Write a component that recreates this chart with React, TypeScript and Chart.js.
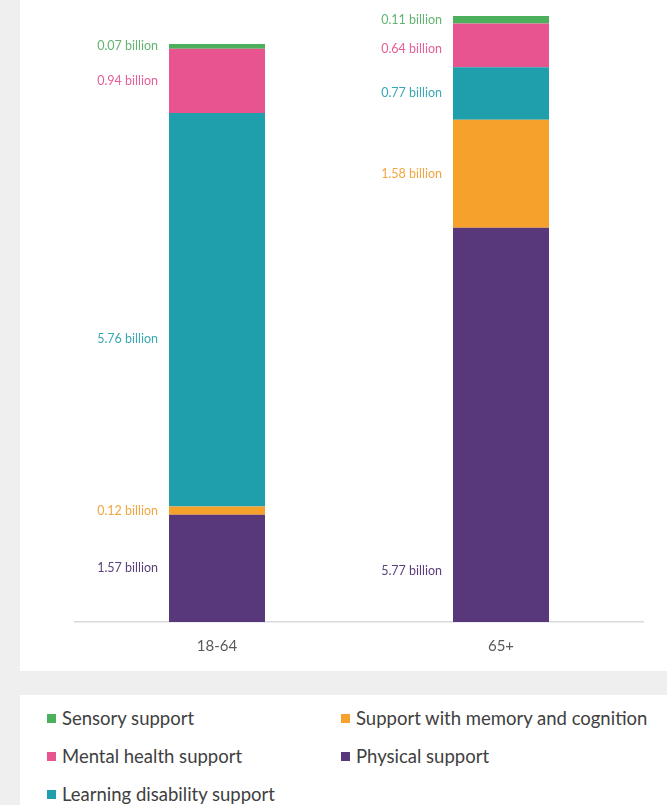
import React, { useEffect, useRef } from "react";
import { Chart, registerables } from "chart.js";

Chart.register(...registerables);

const categories = ["18-64", "65+"];
const seriesNames = [
  "Physical support",
  "Support with memory and cognition",
  "Learning disability support",
  "Mental health support",
  "Sensory support",
];
const physical = [1.57, 5.77];
const memory = [0.12, 1.58];
const learning = [5.76, 0.77];
const mental = [0.94, 0.64];
const sensory = [0.07, 0.11];
const seriesValues = [physical, memory, learning, mental, sensory];
const colors = ["#58377a", "#f5a12b", "#1f9fac", "#e8548f", "#4caf5b"];
const labelColors = ["#5b3f7c", "#f3a640", "#3aa7b4", "#e65f96", "#62b56f"];
// y-values (billions) where a value label is anchored when not at segment middle: key = "series-category"
const labelAnchors: Record<string, number> = { "2-0": 4.14, "0-1": 0.74, "3-1": 8.39 };
const legendOrder = [4, 3, 2, 1, 0];
const yMax = 9;

const FONT = "Lato, 'Open Sans', sans-serif";

const valueLabels = {
  id: "valueLabels",
  afterDatasetsDraw(chart: any) {
    const ctx = chart.ctx;
    const yScale = chart.scales.y;
    ctx.save();
    ctx.font = `12.5px ${FONT}`;
    ctx.textAlign = "right";
    ctx.textBaseline = "middle";
    chart.data.datasets.forEach((ds: any, i: number) => {
      const meta = chart.getDatasetMeta(i);
      meta.data.forEach((bar: any, j: number) => {
        const p = bar.getProps(["x", "y", "base", "width"], true);
        const key = `${i}-${j}`;
        const y = key in labelAnchors ? yScale.getPixelForValue(labelAnchors[key]) : (p.y + p.base) / 2;
        ctx.fillStyle = labelColors[i];
        ctx.fillText(`${Number(ds.data[j]).toFixed(2)} billion`, p.x - p.width / 2 - 11, y);
      });
    });
    ctx.restore();
  },
};

export default function App() {
  const ref = useRef<HTMLCanvasElement>(null);
  useEffect(() => {
    if (!ref.current) return;
    const chart = new Chart(ref.current, {
      type: "bar",
      data: {
        labels: categories,
        datasets: seriesNames.map((name, i) => ({
          label: name,
          data: seriesValues[i],
          backgroundColor: colors[i],
          borderWidth: 0,
          barPercentage: 0.338,
          categoryPercentage: 1,
        })),
      },
      options: {
        animation: false,
        responsive: false,
        maintainAspectRatio: false,
        layout: { padding: { left: 55, right: 24, top: 7, bottom: 0 } },
        plugins: { legend: { display: false }, tooltip: { enabled: false } },
        scales: {
          x: {
            stacked: true,
            grid: { display: false, drawTicks: false },
            border: { display: true, color: "#d9d9d9", width: 1.5 },
            ticks: { color: "#595959", font: { family: FONT, size: 15, lineHeight: 1 }, padding: 17 },
          },
          y: { stacked: true, display: false, min: 0, max: yMax },
        },
      },
      plugins: [valueLabels],
    });
    return () => chart.destroy();
  }, []);

  return (
    <div style={{ position: "fixed", left: 0, top: 0, width: 667, height: 805, background: "#efefef", fontFamily: FONT }}>
      <div style={{ position: "absolute", left: 20, top: 0, width: 647, height: 671, background: "#ffffff" }}>
        <canvas ref={ref} width={647} height={671} style={{ display: "block", width: 647, height: 671 }} />
      </div>
      <div
        style={{
          position: "absolute",
          left: 20,
          top: 695,
          width: 647,
          height: 110,
          background: "#ffffff",
          boxSizing: "border-box",
          paddingLeft: 27,
          paddingTop: 4,
          display: "grid",
          gridTemplateRows: "repeat(3, 38px)",
          gridTemplateColumns: "294px auto",
          gridAutoFlow: "column",
        }}
      >
        {legendOrder.map((i) => (
          <div key={i} style={{ display: "flex", alignItems: "center", fontSize: 18.5, color: "#404040", whiteSpace: "nowrap" }}>
            <span style={{ display: "inline-block", width: 9, height: 9, background: colors[i], marginRight: 6 }} />
            {seriesNames[i]}
          </div>
        ))}
      </div>
    </div>
  );
}
